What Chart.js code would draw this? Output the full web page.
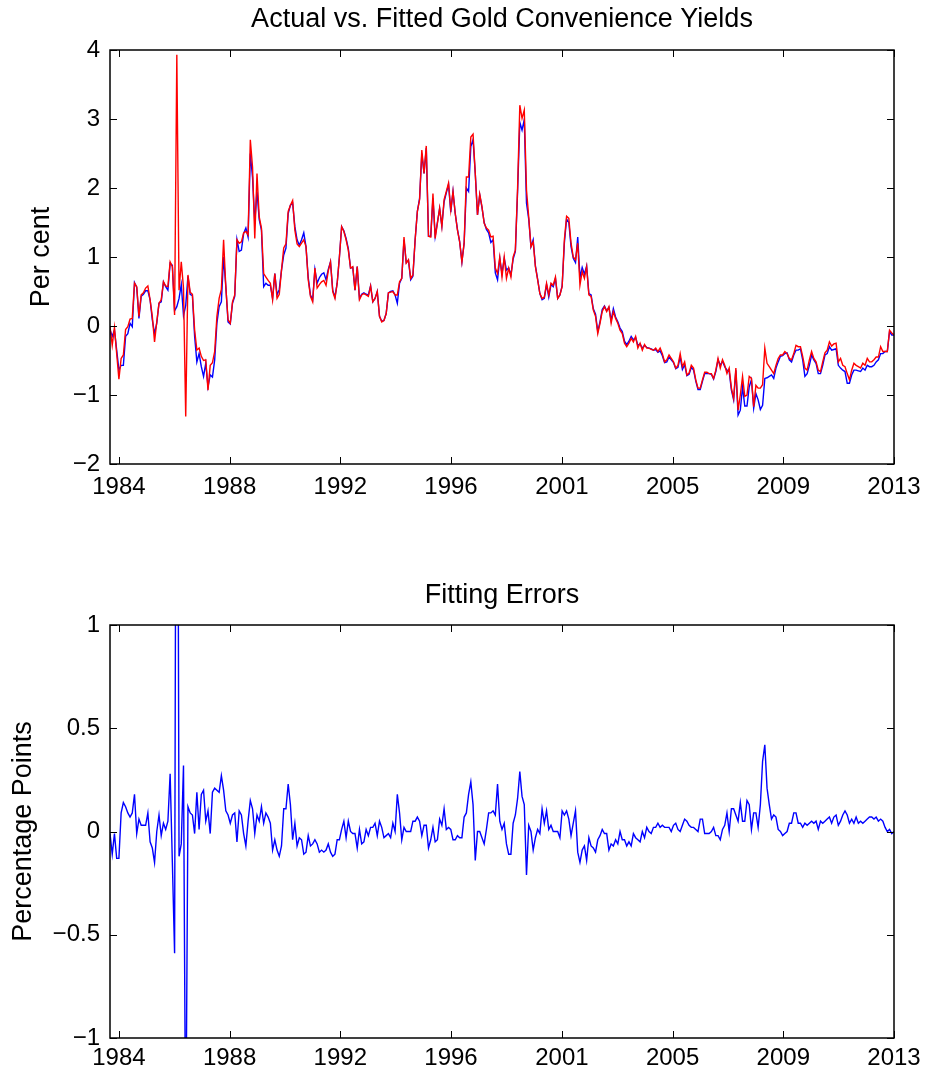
<!DOCTYPE html>
<html lang="en">
<head>
  <meta charset="UTF-8">
  <title>Gold Convenience Yields</title>
  <style>
    body { margin: 0; background: #fff; }
    .painel { position: absolute; left: 0; }
    #topo { top: 0; }
    #baixo { top: 560px; }
  </style>
</head>
<body>
  <div class="painel" id="topo"><canvas id="YieldChart" width="931" height="530"></canvas></div>
  <div class="painel" id="baixo"><canvas id="ErrorChart" width="931" height="519"></canvas></div>

<script src="https://cdn.jsdelivr.net/npm/chart.js"></script>
<script>
  // eixo x: meses desde o inicio da amostra
  const tickPos = [4, 53.7, 103.4, 153.1, 202.9, 252.6, 302.3, 352];
  const tickLabels = ['1984', '1988', '1992', '1996', '2001', '2005', '2009', '2013'];

  // convenience yield observado (vermelho)
  const actual = [
    -0.01,-0.28,-0.02,-0.40,-0.77,-0.47,-0.42,-0.05,-0.01,0.10,
    0.11,0.62,0.57,0.14,0.45,0.48,0.55,0.58,0.38,0.14,
    -0.23,0.06,0.33,0.38,0.64,0.58,0.57,0.93,0.86,0.16,
    3.93,0.52,0.93,0.55,-1.31,0.74,0.49,0.46,-0.06,-0.35,
    -0.32,-0.44,-0.50,-0.49,-0.93,-0.57,-0.53,-0.37,0.14,0.40,
    0.53,1.25,0.57,0.09,0.04,0.35,0.45,1.25,1.20,1.22,
    1.35,1.37,1.32,2.70,2.30,1.27,2.21,1.58,1.42,0.76,
    0.71,0.66,0.62,0.38,0.76,0.40,0.46,0.81,1.13,1.19,
    1.66,1.75,1.82,1.39,1.19,1.15,1.20,1.25,1.15,0.67,
    0.43,0.35,0.84,0.55,0.60,0.64,0.66,0.59,0.80,0.93,
    0.50,0.40,0.62,1.00,1.44,1.37,1.25,1.10,0.84,0.86,
    0.52,0.86,0.38,0.45,0.47,0.45,0.43,0.58,0.35,0.40,
    0.50,0.14,0.06,0.08,0.18,0.48,0.49,0.50,0.45,0.45,
    0.64,0.69,1.29,0.91,0.96,0.69,0.74,1.25,1.66,1.83,
    2.55,2.21,2.61,1.30,1.29,1.92,1.27,1.49,1.71,1.44,
    1.83,1.95,2.07,1.68,1.95,1.63,1.39,1.22,0.93,1.20,
    2.16,2.16,2.74,2.78,2.21,1.61,1.91,1.73,1.49,1.42,
    1.39,1.29,1.30,0.84,0.76,1.00,0.71,1.00,0.69,0.84,
    0.71,1.00,1.10,2.00,3.20,3.01,3.13,1.97,1.58,1.15,
    1.22,0.86,0.67,0.47,0.40,0.42,0.62,0.45,0.62,0.59,
    0.71,0.40,0.45,0.57,1.25,1.59,1.56,1.20,1.00,0.96,
    1.20,0.59,0.79,0.69,0.86,0.45,0.43,0.23,0.14,-0.11,
    0.04,0.21,0.28,0.21,0.28,0.04,0.21,0.11,0.04,-0.06,
    -0.11,-0.25,-0.30,-0.25,-0.18,-0.23,-0.15,-0.32,-0.25,-0.35,
    -0.27,-0.32,-0.32,-0.34,-0.35,-0.32,-0.37,-0.32,-0.40,-0.52,
    -0.49,-0.42,-0.47,-0.52,-0.61,-0.57,-0.40,-0.59,-0.52,-0.71,
    -0.68,-0.57,-0.61,-0.78,-0.90,-0.90,-0.78,-0.67,-0.67,-0.69,
    -0.69,-0.76,-0.64,-0.47,-0.61,-0.49,-0.57,-0.69,-0.61,-0.90,
    -1.05,-0.61,-1.22,-1.00,-0.73,-1.02,-1.00,-0.73,-0.76,-1.17,
    -0.86,-0.90,-0.90,-0.85,-0.32,-0.54,-0.59,-0.64,-0.69,-0.57,
    -0.47,-0.42,-0.42,-0.37,-0.40,-0.47,-0.49,-0.40,-0.28,-0.30,
    -0.30,-0.44,-0.61,-0.64,-0.49,-0.37,-0.47,-0.52,-0.64,-0.66,
    -0.52,-0.39,-0.35,-0.23,-0.29,-0.26,-0.25,-0.52,-0.47,-0.57,
    -0.59,-0.69,-0.78,-0.64,-0.54,-0.57,-0.59,-0.61,-0.54,-0.57,
    -0.47,-0.52,-0.52,-0.49,-0.45,-0.45,-0.30,-0.37,-0.37,-0.37,
    -0.06,-0.10,-0.13
  ];

  // convenience yield ajustado pelo modelo (azul)
  const fitted = [
    -0.05,-0.15,-0.06,-0.35,-0.64,-0.57,-0.57,-0.15,-0.11,0.04,
    -0.01,0.63,0.56,0.11,0.43,0.46,0.51,0.51,0.38,0.09,
    -0.11,0.04,0.33,0.35,0.64,0.57,0.52,0.91,0.88,0.22,
    0.28,0.40,0.60,0.15,0.30,0.72,0.46,0.44,-0.15,-0.52,
    -0.40,-0.59,-0.73,-0.54,-0.88,-0.71,-0.74,-0.49,0.04,0.28,
    0.35,1.00,0.57,0.06,0.03,0.33,0.43,1.25,1.08,1.10,
    1.34,1.42,1.29,2.50,2.15,1.50,1.95,1.54,1.39,0.57,
    0.62,0.59,0.59,0.40,0.76,0.45,0.53,0.81,1.03,1.13,
    1.63,1.75,1.78,1.44,1.25,1.17,1.25,1.35,1.15,0.70,
    0.45,0.38,0.82,0.62,0.70,0.75,0.77,0.67,0.82,0.93,
    0.52,0.42,0.62,1.00,1.44,1.38,1.27,1.12,0.84,0.85,
    0.52,0.86,0.40,0.46,0.48,0.46,0.45,0.58,0.35,0.40,
    0.50,0.14,0.07,0.08,0.18,0.48,0.50,0.51,0.45,0.33,
    0.62,0.69,1.25,0.92,0.95,0.67,0.72,1.25,1.66,1.85,
    2.50,2.21,2.58,1.30,1.30,1.85,1.30,1.50,1.70,1.45,
    1.80,1.93,2.05,1.65,1.95,1.63,1.40,1.22,0.93,1.20,
    2.00,1.95,2.60,2.70,2.21,1.61,1.90,1.72,1.50,1.40,
    1.35,1.21,1.25,0.77,0.67,0.98,0.76,0.98,0.81,0.84,
    0.74,0.97,1.08,1.95,2.95,2.84,2.99,1.78,1.55,1.15,
    1.25,0.87,0.68,0.47,0.38,0.40,0.60,0.42,0.60,0.57,
    0.69,0.40,0.45,0.58,1.20,1.55,1.50,1.15,0.98,0.92,
    1.29,0.70,0.85,0.75,0.87,0.47,0.45,0.25,0.17,-0.08,
    0.06,0.24,0.29,0.22,0.27,0.08,0.25,0.13,0.06,-0.03,
    -0.08,-0.22,-0.27,-0.22,-0.15,-0.20,-0.17,-0.28,-0.26,-0.32,
    -0.28,-0.31,-0.32,-0.33,-0.35,-0.34,-0.38,-0.36,-0.43,-0.53,
    -0.52,-0.45,-0.49,-0.53,-0.62,-0.60,-0.45,-0.63,-0.56,-0.72,
    -0.70,-0.60,-0.64,-0.80,-0.92,-0.92,-0.80,-0.69,-0.69,-0.69,
    -0.70,-0.77,-0.66,-0.49,-0.57,-0.51,-0.59,-0.64,-0.66,-0.93,
    -1.07,-0.64,-1.29,-1.22,-0.88,-1.16,-1.16,-0.88,-0.78,-1.19,
    -0.98,-1.07,-1.21,-1.15,-0.76,-0.75,-0.73,-0.71,-0.76,-0.61,
    -0.52,-0.44,-0.43,-0.40,-0.39,-0.49,-0.52,-0.42,-0.35,-0.35,
    -0.33,-0.49,-0.73,-0.69,-0.57,-0.42,-0.49,-0.54,-0.69,-0.69,
    -0.57,-0.42,-0.40,-0.30,-0.35,-0.34,-0.33,-0.57,-0.61,-0.64,
    -0.66,-0.83,-0.83,-0.71,-0.64,-0.64,-0.65,-0.66,-0.61,-0.64,
    -0.57,-0.59,-0.59,-0.57,-0.52,-0.49,-0.40,-0.40,-0.37,-0.37,
    -0.08,-0.13,-0.13
  ];

  // erros de ajuste em pontos percentuais
  const errors = [
    -0.01,-0.11,-0.01,-0.13,-0.13,0.09,0.14,0.12,0.09,0.07,
    0.09,0.18,-0.01,0.06,0.03,0.03,0.03,0.09,-0.05,-0.08,
    -0.15,0.00,0.08,-0.02,0.04,0.01,0.05,0.28,-0.15,-0.59,
    3.6,-0.12,-0.06,0.32,-1.6,0.12,0.09,0.08,-0.01,0.19,
    0.01,0.18,0.20,0.05,0.10,-0.01,0.19,0.21,0.20,0.19,
    0.27,0.20,0.10,0.08,0.04,0.08,0.09,-0.05,0.10,0.08,
    -0.01,-0.07,0.05,0.15,0.11,-0.01,0.08,0.05,0.12,0.04,
    0.09,0.07,0.04,-0.09,-0.04,-0.09,-0.12,-0.07,0.11,0.11,
    0.23,0.13,-0.04,0.04,-0.07,-0.03,-0.04,-0.11,-0.10,-0.02,
    -0.07,-0.06,-0.04,-0.06,-0.10,-0.09,-0.10,-0.09,-0.06,-0.10,
    -0.12,-0.11,-0.04,-0.04,0.01,0.05,-0.03,0.05,0.00,-0.01,
    -0.01,-0.08,0.01,-0.06,-0.05,0.01,-0.02,0.02,0.02,0.04,
    -0.02,0.05,0.02,-0.03,-0.02,-0.01,-0.03,0.04,0.00,0.18,
    0.09,-0.04,0.02,0.00,0.00,0.00,0.05,0.05,0.07,0.05,
    -0.02,0.03,0.03,-0.08,-0.04,0.02,-0.05,-0.04,0.06,0.03,
    0.11,0.01,0.02,0.01,-0.04,-0.04,-0.02,-0.03,-0.03,0.07,
    0.09,0.18,0.24,0.13,-0.14,0.00,0.00,-0.03,-0.06,0.01,
    0.09,0.09,0.10,0.08,0.23,0.05,0.01,0.04,-0.06,-0.11,
    -0.11,0.04,0.08,0.16,0.29,0.17,0.13,-0.21,0.03,0.00,
    -0.09,-0.03,0.01,-0.01,0.11,0.04,0.10,0.01,0.03,0.00,
    0.00,0.00,-0.03,0.10,0.08,0.10,0.06,-0.02,0.04,0.10,
    -0.10,-0.15,-0.09,-0.07,-0.14,-0.03,-0.07,-0.08,-0.10,-0.04,
    -0.02,0.01,-0.01,-0.01,-0.09,-0.06,-0.07,-0.04,-0.06,0.00,
    -0.04,-0.04,-0.07,-0.05,-0.07,-0.01,-0.03,-0.04,-0.05,0.00,
    -0.03,0.02,0.00,-0.01,0.02,0.02,0.04,0.02,0.03,0.02,
    0.02,0.02,0.00,0.03,0.04,0.01,0.00,0.03,0.06,0.05,
    0.03,0.02,0.02,0.01,0.00,0.06,0.06,-0.01,-0.01,-0.01,
    0.00,0.02,-0.02,-0.02,-0.04,0.01,0.03,0.09,0.00,0.11,
    0.11,0.08,0.05,0.14,0.05,0.05,0.15,0.13,0.01,0.09,
    0.09,0.02,0.13,0.34,0.42,0.21,0.13,0.06,0.08,0.07,
    0.01,0.00,-0.02,-0.01,0.00,0.04,0.04,0.09,0.09,0.04,
    0.04,0.02,0.04,0.03,0.04,0.05,0.04,0.05,0.01,0.05,
    0.04,0.05,0.06,0.07,0.04,0.07,0.08,0.03,0.05,0.08,
    0.10,0.08,0.04,0.06,0.04,0.07,0.04,0.05,0.04,0.05,
    0.06,0.07,0.07,0.06,0.07,0.05,0.06,0.05,0.02,0.00,
    0.01,-0.01,0.00
  ];

  const monthIdx = actual.map((_, i) => i);

  Chart.defaults.font.family = '"Liberation Sans", Arial, Helvetica, sans-serif';
  Chart.defaults.color = '#000';
  Chart.defaults.animation = false;

  // caixa estilo matlab, com ticks para dentro nos quatro lados
  const caixa = {
    id: 'caixa',
    afterDatasetsDraw(chart) {
      const { ctx, chartArea: a, scales: { x, y } } = chart;
      ctx.save();
      ctx.strokeStyle = '#000';
      ctx.lineWidth = 1;
      ctx.beginPath();
      x.ticks.forEach(t => {
        const px = Math.round(x.getPixelForValue(t.value)) + 0.5;
        ctx.moveTo(px, a.bottom); ctx.lineTo(px, a.bottom - 7);
        ctx.moveTo(px, a.top); ctx.lineTo(px, a.top + 7);
      });
      y.ticks.forEach(t => {
        const py = Math.round(y.getPixelForValue(t.value)) + 0.5;
        ctx.moveTo(a.left, py); ctx.lineTo(a.left + 7, py);
        ctx.moveTo(a.right, py); ctx.lineTo(a.right - 7, py);
      });
      ctx.stroke();
      ctx.lineWidth = 1.5;
      ctx.strokeRect(a.left, a.top, a.right - a.left, a.bottom - a.top);
      ctx.restore();
    }
  };

  function eixoX(altura, pad) {
    return {
      type: 'linear',
      min: 0,
      max: 352,
      grid: { display: false, drawTicks: false },
      border: { display: false },
      afterBuildTicks: s => { s.ticks = tickPos.map(v => ({ value: v })); },
      afterFit: s => { s.height = altura; },
      ticks: {
        autoSkip: false,
        maxRotation: 0,
        padding: pad,
        font: { size: 24 },
        callback: (v, i) => tickLabels[i]
      }
    };
  }

  function eixoY(min, max, passo, titulo, tpad) {
    return {
      min: min,
      max: max,
      grid: { display: false, drawTicks: false },
      border: { display: false },
      afterFit: s => { s.width = 110; },
      title: { display: true, text: titulo, font: { size: 27 }, padding: { top: tpad, bottom: 0 } },
      ticks: {
        stepSize: passo,
        padding: 10,
        font: { size: 24 },
        callback: v => String(v).replace('-', '\u2212')
      }
    };
  }

  // Gráfico de cima: observado vs ajustado
  new Chart(document.getElementById('YieldChart'), {
    type: 'line',
    data: {
      labels: monthIdx,
      datasets: [{
        label: 'Actual',
        data: actual,
        borderColor: '#ff0000',
        borderWidth: 1.4,
        pointRadius: 0,
        order: 0
      }, {
        label: 'Fitted',
        data: fitted,
        borderColor: '#0000ff',
        borderWidth: 1.4,
        pointRadius: 0,
        order: 1
      }]
    },
    options: {
      responsive: false,
      layout: { padding: { left: 0, right: 37, top: 0, bottom: 0 } },
      plugins: {
        legend: { display: false },
        tooltip: { enabled: false },
        title: {
          display: true,
          fullSize: false,
          text: 'Actual vs. Fitted Gold Convenience Yields',
          font: { size: 27, weight: 'normal' },
          padding: { top: 3, bottom: 14.6 }
        }
      },
      scales: {
        x: eixoX(66, 8.6),
        y: eixoY(-2, 4, 1, 'Per cent', 25)
      }
    },
    plugins: [caixa]
  });

  // Gráfico de baixo: erros
  new Chart(document.getElementById('ErrorChart'), {
    type: 'line',
    data: {
      labels: monthIdx,
      datasets: [{
        label: 'Fitting Errors',
        data: errors,
        borderColor: '#0000ff',
        borderWidth: 1.4,
        pointRadius: 0
      }]
    },
    options: {
      responsive: false,
      layout: { padding: { left: 0, right: 37, top: 0, bottom: 0 } },
      plugins: {
        legend: { display: false },
        tooltip: { enabled: false },
        title: {
          display: true,
          fullSize: false,
          text: 'Fitting Errors',
          font: { size: 27, weight: 'normal' },
          padding: { top: 19.8, bottom: 12.8 }
        }
      },
      scales: {
        x: eixoX(41, 5.6),
        y: eixoY(-1, 1, 0.5, 'Percentage Points', 7)
      }
    },
    plugins: [caixa]
  });
</script>
</body>
</html>
